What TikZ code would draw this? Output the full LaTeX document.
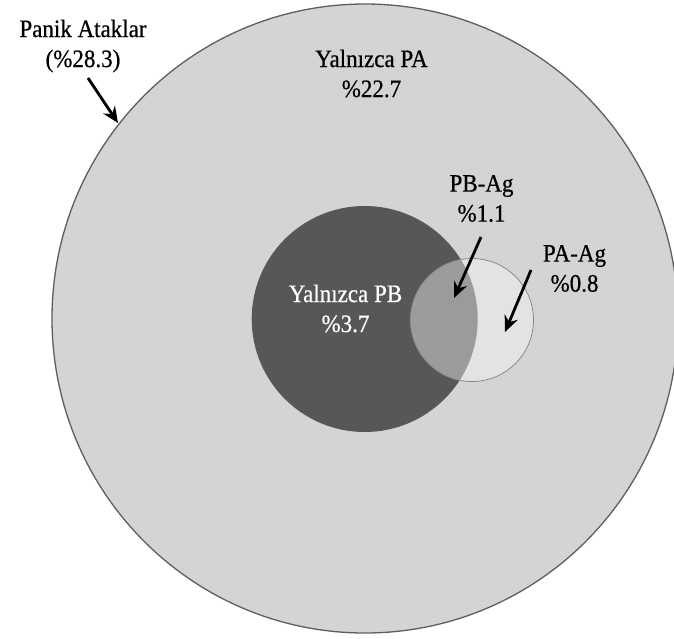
\documentclass[tikz,border=0pt]{standalone}
\usepackage{fontspec}
\setmainfont{Liberation Serif}[FakeStretch=0.92,FakeBold=0.6]
\usetikzlibrary{arrows.meta}
\definecolor{bigfill}{HTML}{D4D4D4}
\definecolor{bigline}{HTML}{5E5E5E}
\definecolor{darkfill}{HTML}{575757}
\definecolor{smallfill}{HTML}{E3E3E3}
\definecolor{smallline}{HTML}{8A8A8A}
\definecolor{overlapfill}{HTML}{9B9B9B}
\tikzset{
  lbl/.style={align=center, inner sep=0pt, font=\fontsize{25}{30}\selectfont},
  arr/.style={line width=2.8pt, -{Stealth[length=16pt,width=14pt]}, black}
}
\begin{document}
\begin{tikzpicture}[x=1pt,y=-1pt]
\useasboundingbox (0,0) rectangle (674,638);
\clip (0,0) rectangle (674,638);
\fill[white] (0,0) rectangle (674,638);
% circles
\draw[fill=bigfill, draw=bigline, line width=1.3pt] (365,318.5) ellipse[x radius=313pt, y radius=314.5pt];
\fill[darkfill] (364.7,319) circle[radius=113pt];
\fill[smallfill] (472,320) circle[radius=61.5pt];
\begin{scope}
  \clip (364.7,319) circle[radius=113pt];
  \fill[overlapfill] (472,320) circle[radius=61.5pt];
\end{scope}
\draw[smallline, line width=0.8pt] (472,320) circle[radius=61.5pt];
% labels
\node[lbl] (panik) at (83,46) {Panik Ataklar\\(\%28.3)};
\node[lbl] (onlypa) at (371.5,73.5) {Yalnızca PA\\\%22.7};
\node[lbl, text=white] (onlypb) at (345.5,308.5) {Yalnızca PB\\\%3.7};
\node[lbl] (pbag) at (481.5,198.5) {PB-Ag\\\%1.1};
\node[lbl] (paag) at (574.5,268.5) {PA-Ag\\\%0.8};
% arrow ends
\coordinate (a1s) at (88,78);
\coordinate (a1e) at (118,123);
\coordinate (a2s) at (481,237);
\coordinate (a2e) at (454,298);
\coordinate (a3s) at (531,270);
\coordinate (a3e) at (505,332);
\draw[arr] (a1s) -- (a1e);
\draw[arr] (a2s) -- (a2e);
\draw[arr] (a3s) -- (a3e);
\end{tikzpicture}
\end{document}
